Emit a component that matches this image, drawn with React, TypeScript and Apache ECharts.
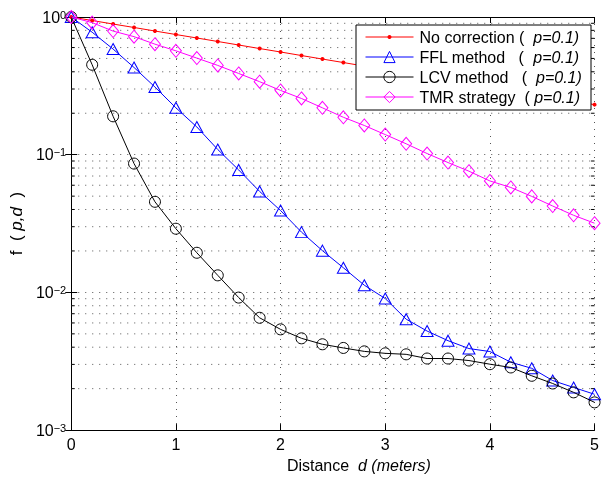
import React, { useEffect, useRef } from 'react';
import * as echarts from 'echarts';

const distances = [0, 0.2, 0.4, 0.6, 0.8, 1.0, 1.2, 1.4, 1.6, 1.8, 2.0, 2.2, 2.4, 2.6, 2.8, 3.0, 3.2, 3.4, 3.6, 3.8, 4.0, 4.2, 4.4, 4.6, 4.8, 5.0];
const noCorrection = [1.0, 0.943, 0.889, 0.839, 0.791, 0.746, 0.704, 0.664, 0.626, 0.59, 0.557, 0.525, 0.495, 0.467, 0.44, 0.415, 0.392, 0.369, 0.348, 0.329, 0.31, 0.292, 0.276, 0.26, 0.245, 0.231];
const fflMethod = [1.0, 0.775, 0.585, 0.43, 0.31, 0.219, 0.159, 0.109, 0.0775, 0.0541, 0.0393, 0.0274, 0.0201, 0.0151, 0.01128, 0.00902, 0.00639, 0.00524, 0.00446, 0.00391, 0.00372, 0.00311, 0.00281, 0.00229, 0.00204, 0.00182];
const lcvMethod = [1.0, 0.45, 0.19, 0.0862, 0.0455, 0.029, 0.0194, 0.0133, 0.00917, 0.00654, 0.00539, 0.00464, 0.0042, 0.00395, 0.00373, 0.00361, 0.00355, 0.00331, 0.00331, 0.0032, 0.00301, 0.00285, 0.00248, 0.00218, 0.00188, 0.00159];
const tmrStrategy = [1.0, 0.91, 0.79, 0.72, 0.635, 0.568, 0.503, 0.445, 0.389, 0.339, 0.293, 0.256, 0.219, 0.187, 0.163, 0.14, 0.12, 0.102, 0.0877, 0.0759, 0.0645, 0.0578, 0.0498, 0.0424, 0.0363, 0.0318];
const yMinorGrid = [0.002, 0.003, 0.004, 0.005, 0.006, 0.007, 0.008, 0.009, 0.02, 0.03, 0.04, 0.05, 0.06, 0.07, 0.08, 0.09, 0.2, 0.3, 0.4, 0.5, 0.6, 0.7, 0.8, 0.9];
const seriesNames = ['No correction', 'FFL method', 'LCV method', 'TMR strategy'];
const legendTexts = ['{n|No correction (  }{i|p=0.1)}', '{n|FFL method   (  }{i|p=0.1)}', '{n|LCV method   (  }{i|p=0.1)}', '{n|TMR strategy  ( }{i|p=0.1)}'];
const legendIconHeights = [5, 14, 14, 14];

const FONT = 'Liberation Sans, Arial, Helvetica, sans-serif';

export default function App() {
  const ref = useRef<HTMLDivElement>(null);
  useEffect(() => {
    document.body.style.margin = '0';
    const chart = echarts.init(ref.current!, null, { renderer: 'svg' });
    const pair = (arr: number[]) => distances.map((d, i) => [d, arr[i]]);
    const dotted = { color: '#555', width: 1, type: [1, 6] as any };
    const supLabel = (v: number) => {
      const e = Math.round(Math.log10(v));
      return '{b|10}{s|' + (e < 0 ? '\u2212' + Math.abs(e) : String(e)) + '}';
    };
    const legendRowCenters = [38, 58, 78, 98];
    const legends = seriesNames.map((name, k) => ({
      data: [name],
      orient: 'vertical',
      left: 365,
      top: legendRowCenters[k] - 9,
      padding: 0,
      itemWidth: 48,
      itemHeight: legendIconHeights[k],
      z: 20,
      selectedMode: false,
      itemStyle: { borderWidth: k === 0 ? 0 : 1 },
      lineStyle: { width: 1 },
      formatter: () => legendTexts[k],
      textStyle: {
        fontSize: 16, color: '#000', fontFamily: FONT, padding: [0, 0, 0, 1],
        rich: {
          n: { fontSize: 16, lineHeight: 18, color: '#000', fontFamily: FONT },
          i: { fontStyle: 'italic', fontSize: 16, lineHeight: 18, color: '#000', fontFamily: FONT },
        },
      },
    }));
    const option: any = {
      animation: false,
      textStyle: { fontFamily: FONT },
      grid: { left: 71, right: 1, top: 17, bottom: 44 },
      graphic: [
        {
          type: 'rect', z: 15,
          shape: { x: 356, y: 25, width: 235, height: 85 },
          style: { fill: '#fff', stroke: '#000', lineWidth: 1 },
        },
      ],
      legend: legends,
      xAxis: [
        {
          type: 'value', min: 0, max: 5, interval: 1,
          name: '{n|Distance  }{i|d (meters)}',
          nameLocation: 'middle', nameGap: 22,
          nameTextStyle: {
            fontSize: 16, color: '#000', fontFamily: FONT, padding: [0, 0, 0, 52],
            rich: {
              n: { fontSize: 16, color: '#000', fontFamily: FONT },
              i: { fontStyle: 'italic', fontSize: 16, color: '#000', fontFamily: FONT },
            },
          },
          axisLine: { lineStyle: { color: '#000', width: 1 } },
          axisTick: { inside: true, length: 6, lineStyle: { color: '#000' } },
          axisLabel: { fontSize: 16, color: '#000', margin: 6, fontFamily: FONT },
          splitLine: { show: true, lineStyle: dotted },
        },
        {
          type: 'value', min: 0, max: 5, interval: 1, position: 'top',
          axisLine: { lineStyle: { color: '#000', width: 1 } },
          axisTick: { inside: true, length: 6, lineStyle: { color: '#000' } },
          axisLabel: { show: false },
          splitLine: { show: false },
        },
      ],
      yAxis: [
        {
          type: 'log', logBase: 10, min: 0.001, max: 1,
          name: '{n|f  (}{i| p,d}{n|  )}',
          nameLocation: 'middle', nameGap: 35,
          nameTextStyle: {
            fontSize: 17, color: '#000', fontFamily: FONT,
            rich: {
              n: { fontSize: 17, color: '#000', fontFamily: FONT },
              i: { fontStyle: 'italic', fontSize: 17, color: '#000', fontFamily: FONT },
            },
          },
          axisLine: { show: true, lineStyle: { color: '#000', width: 1 } },
          axisTick: { inside: true, length: 6, lineStyle: { color: '#000' } },
          axisLabel: {
            margin: 5, color: '#000', formatter: supLabel,
            rich: {
              b: { fontSize: 16, lineHeight: 16, padding: [5, 0, 5, 0], color: '#000', fontFamily: FONT },
              s: { fontSize: 11, lineHeight: 11, verticalAlign: 'top', color: '#000', fontFamily: FONT },
            },
          },
          splitLine: { show: true, lineStyle: dotted },
        },
        {
          type: 'log', logBase: 10, min: 0.001, max: 1, position: 'right',
          axisLine: { show: true, lineStyle: { color: '#000', width: 1 } },
          axisTick: { inside: true, length: 6, lineStyle: { color: '#000' } },
          axisLabel: { show: false },
          splitLine: { show: false },
        },
      ],
      series: [
        {
          type: 'custom', name: 'minorGrid', silent: true, z: 1,
          xAxisIndex: 0, yAxisIndex: 0,
          data: yMinorGrid.map((v) => [0, v]),
          encode: { x: 0, y: 1 },
          renderItem: (params: any, api: any) => {
            const cs = params.coordSys;
            const y = api.coord([0, api.value(1)])[1];
            return {
              type: 'group',
              children: [
                { type: 'line', shape: { x1: cs.x, y1: y, x2: cs.x + cs.width, y2: y }, style: { stroke: '#555', lineWidth: 1, lineDash: [1, 6] } },
                { type: 'line', shape: { x1: cs.x, y1: y, x2: cs.x + 3.5, y2: y }, style: { stroke: '#000', lineWidth: 1 } },
                { type: 'line', shape: { x1: cs.x + cs.width - 3.5, y1: y, x2: cs.x + cs.width, y2: y }, style: { stroke: '#000', lineWidth: 1 } },
              ],
            };
          },
        },
        {
          type: 'line', name: seriesNames[0], data: pair(noCorrection), clip: false, z: 3,
          symbol: 'circle', symbolSize: 4,
          lineStyle: { color: '#ff0000', width: 1 },
          itemStyle: { color: '#ff0000', borderColor: '#ff0000', borderWidth: 0 },
        },
        {
          type: 'line', name: seriesNames[1], data: pair(fflMethod), clip: false, z: 4,
          symbol: 'triangle', symbolSize: [12, 11],
          lineStyle: { color: '#0000ff', width: 1 },
          itemStyle: { color: 'rgba(0,0,0,0)', borderColor: '#0000ff', borderWidth: 1 },
        },
        {
          type: 'line', name: seriesNames[2], data: pair(lcvMethod), clip: false, z: 5,
          symbol: 'circle', symbolSize: 11,
          lineStyle: { color: '#000000', width: 1 },
          itemStyle: { color: 'rgba(0,0,0,0)', borderColor: '#000000', borderWidth: 1 },
        },
        {
          type: 'line', name: seriesNames[3], data: pair(tmrStrategy), clip: false, z: 6,
          symbol: 'diamond', symbolSize: [11, 13],
          lineStyle: { color: '#ff00ff', width: 1 },
          itemStyle: { color: 'rgba(0,0,0,0)', borderColor: '#ff00ff', borderWidth: 1 },
        },
      ],
    };
    chart.setOption(option);
    return () => chart.dispose();
  }, []);
  return <div ref={ref} style={{ width: 602, height: 478, position: 'fixed', left: 0, top: 0 }} />;
}
